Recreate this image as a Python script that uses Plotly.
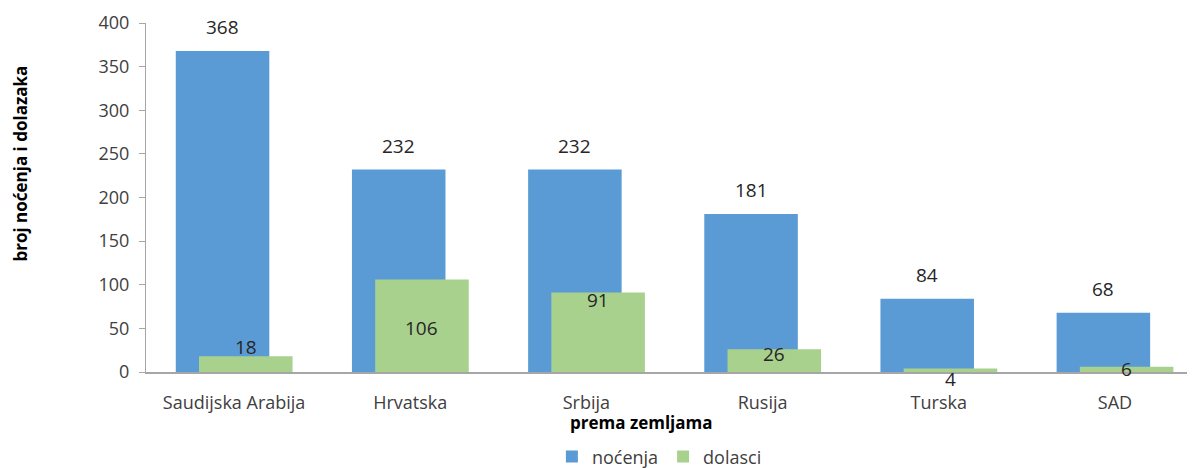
import plotly.graph_objects as go

countries = ["Saudijska Arabija", "Hrvatska", "Srbija", "Rusija", "Turska", "SAD"]
nocenja = [368, 232, 232, 181, 84, 68]
dolasci = [18, 106, 91, 26, 4, 6]

# Excel-style bars: same width, green shifted right over blue
BAR_W = 0.531
BLUE_OFF = -0.331
GREEN_OFF = -0.199
# label nudges (px) as placed in the original chart
green_shift = [9, -48, -7, -5, -10, -2]

fig = go.Figure()
fig.add_trace(go.Bar(
    x=list(range(len(countries))), y=nocenja, name="noćenja",
    width=BAR_W, offset=BLUE_OFF, marker=dict(color="#5B9BD5", line_width=0),
))
fig.add_trace(go.Bar(
    x=list(range(len(countries))), y=dolasci, name="dolasci",
    width=BAR_W, offset=GREEN_OFF, marker=dict(color="#A9D18E", line_width=0),
))

for i, v in enumerate(nocenja):
    fig.add_annotation(x=i + BLUE_OFF + BAR_W / 2, y=v, text=str(v), showarrow=False,
                       yshift=24, font=dict(size=19, color="#262626"))
for i, v in enumerate(dolasci):
    fig.add_annotation(x=i + GREEN_OFF + BAR_W / 2, y=v, text=str(v), showarrow=False,
                       yshift=green_shift[i], font=dict(size=19, color="#262626"))

fig.add_annotation(xref="paper", yref="paper", x=-0.1187, y=0.596, text="<b>broj noćenja i dolazaka</b>",
                   textangle=-90, showarrow=False, font=dict(size=17, color="black"),
                   xanchor="center", yanchor="middle")
fig.add_annotation(xref="paper", yref="paper", x=0.469, y=-0.146, text="<b>prema zemljama</b>",
                   showarrow=False, font=dict(size=17, color="black"),
                   xanchor="center", yanchor="middle")

fig.update_layout(
    width=1195, height=468,
    margin=dict(l=138, r=0, t=15, b=104),
    barmode="overlay",
    plot_bgcolor="white", paper_bgcolor="white",
    font=dict(family="Open Sans", size=18, color="#404040"),
    showlegend=True,
    legend=dict(orientation="h", x=0.384, xanchor="left", y=-0.243, yanchor="middle",
                font=dict(size=18, color="#404040"), itemwidth=30, traceorder="normal"),
    xaxis=dict(
        tickmode="array", tickvals=list(range(len(countries))), ticktext=countries,
        range=[-0.5, 5.5], showline=True, linecolor="#A6A6A6", linewidth=2,
        showgrid=False, zeroline=False, ticks="", ticklabelstandoff=13,
        tickfont=dict(size=18),
    ),
    yaxis=dict(
        range=[0, 400], dtick=50, showline=True, linecolor="#A6A6A6", linewidth=1,
        showgrid=False, zeroline=False, ticks="outside", ticklen=6, tickcolor="#A6A6A6",
        ticklabelstandoff=6, tickfont=dict(size=18),
    ),
)

fig.write_html("out.html")
